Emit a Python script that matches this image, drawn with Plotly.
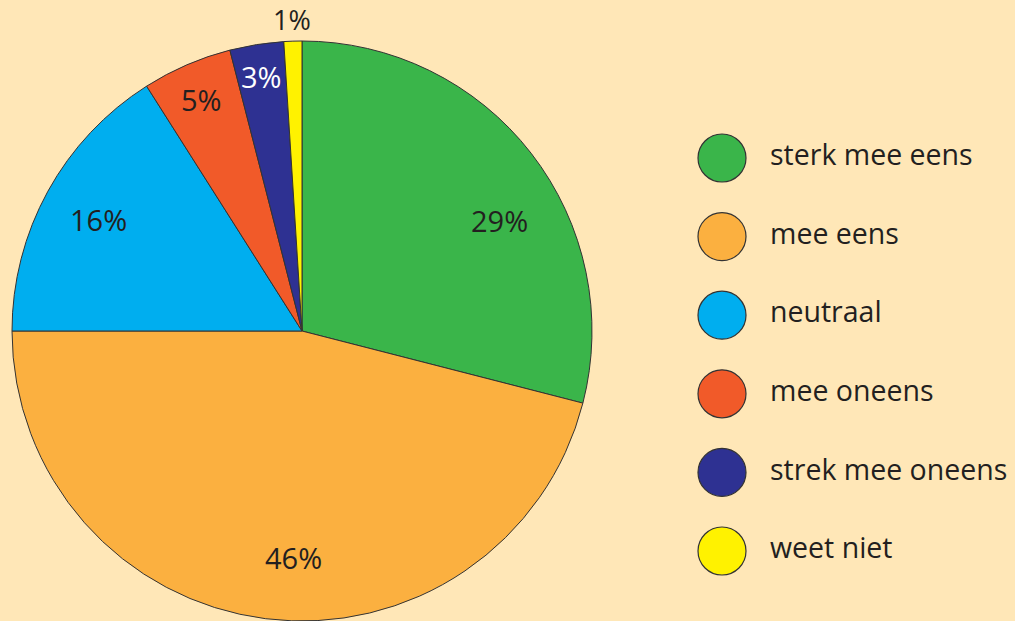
import math
import plotly.graph_objects as go

categories = ["sterk mee eens", "mee eens", "neutraal", "mee oneens", "strek mee oneens", "weet niet"]
values = [29, 46, 16, 5, 3, 1]
labels_pct = ["29%", "46%", "16%", "5%", "3%", "1%"]
colors = ["#3AB54A", "#FBB040", "#00AEEF", "#F15A29", "#2E3192", "#FFF200"]
text_colors = ["#231F20", "#231F20", "#231F20", "#231F20", "#FFFFFF", "#231F20"]

# label placement: fraction of radius and angular nudge (degrees) from slice mid-angle
label_radius = [0.78, 0.78, 0.80, 0.87, 0.89, 1.075]
label_nudge = [8.5, -5.0, 0.0, 0.0, 0.0, 0.0]

BG = "#FFE7B7"
INK = "#231F20"
FONT = "Open Sans"
W, H = 1015, 621

# pie geometry in pixels
cx_px, cy_px, r_px = 302, 331, 290

fig = go.Figure()

fig.add_trace(go.Pie(
    labels=categories,
    values=values,
    textinfo="none",
    marker=dict(colors=colors, line=dict(color="#333333", width=1)),
    sort=False,
    direction="clockwise",
    rotation=0,
    domain=dict(x=[(cx_px - r_px) / W, (cx_px + r_px) / W],
                y=[1 - (cy_px + r_px) / H, 1 - (cy_px - r_px) / H]),
    showlegend=False,
    hoverinfo="label+percent",
))

# percentage labels near slice mid-angles
total = sum(values)
cum = 0.0
for v, txt, col, rf, nd in zip(values, labels_pct, text_colors, label_radius, label_nudge):
    mid = (cum + v / 2) / total * 2 * math.pi + math.radians(nd)
    cum += v
    px = cx_px + rf * r_px * math.sin(mid)
    py = cy_px - rf * r_px * math.cos(mid)
    fig.add_annotation(
        x=px / W, y=1 - py / H, xref="paper", yref="paper",
        text=txt, showarrow=False,
        font=dict(family=FONT, size=29 if v > 1 else 27, color=col),
        xanchor="center", yanchor="middle",
    )

# custom legend: circles + labels
ys = list(range(len(categories)))
fig.add_trace(go.Scatter(
    x=[0] * len(categories), y=ys, mode="markers",
    marker=dict(size=48, color=colors, line=dict(color="#333333", width=1.2)),
    showlegend=False, hoverinfo="skip", xaxis="x", yaxis="y",
))
fig.add_trace(go.Scatter(
    x=[1] * len(categories), y=ys, mode="text", text=categories,
    textposition="middle right",
    textfont=dict(family=FONT, size=28.5, color=INK),
    showlegend=False, hoverinfo="skip", xaxis="x", yaxis="y",
))

px_x = 48.0
x0_px, dom_left = 722, 690
px_y = 78.6
y0_px = 158

fig.update_layout(
    width=W, height=H,
    margin=dict(l=0, r=0, t=0, b=0),
    paper_bgcolor=BG, plot_bgcolor="rgba(0,0,0,0)",
    xaxis=dict(domain=[dom_left / W, 1.0],
               range=[-(x0_px - dom_left) / px_x, (W - x0_px) / px_x],
               visible=False, fixedrange=True),
    yaxis=dict(domain=[0, 1],
               range=[(H - y0_px) / px_y, -y0_px / px_y],
               visible=False, fixedrange=True),
    font=dict(family=FONT, color=INK),
)

fig.write_html(
    "out.html",
    config={"displayModeBar": False},
    post_script="document.body.style.margin='0';document.body.style.overflow='hidden';"
    "document.body.style.background='" + BG + "';",
)
